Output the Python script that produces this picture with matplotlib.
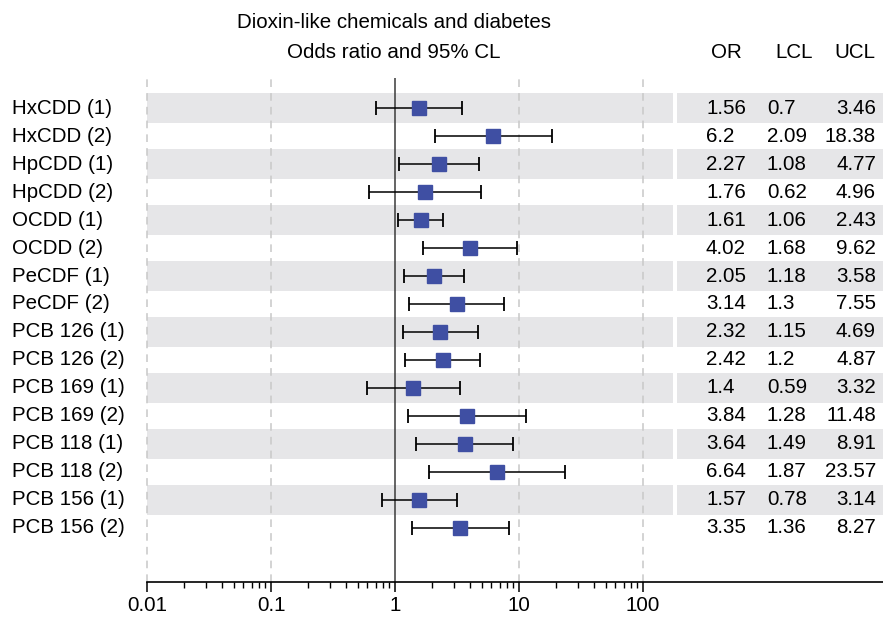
import matplotlib
matplotlib.use('Agg')
import matplotlib.pyplot as plt
import matplotlib.transforms as mtrans
import numpy as np

# forest plot: dioxin-like chemicals vs diabetes
labels = ['HxCDD (1)', 'HxCDD (2)', 'HpCDD (1)', 'HpCDD (2)', 'OCDD (1)', 'OCDD (2)',
          'PeCDF (1)', 'PeCDF (2)', 'PCB 126 (1)', 'PCB 126 (2)', 'PCB 169 (1)', 'PCB 169 (2)',
          'PCB 118 (1)', 'PCB 118 (2)', 'PCB 156 (1)', 'PCB 156 (2)']
odds = [1.56, 6.2, 2.27, 1.76, 1.61, 4.02, 2.05, 3.14, 2.32, 2.42, 1.4, 3.84, 3.64, 6.64, 1.57, 3.35]
lcl = [0.7, 2.09, 1.08, 0.62, 1.06, 1.68, 1.18, 1.3, 1.15, 1.2, 0.59, 1.28, 1.49, 1.87, 0.78, 1.36]
ucl = [3.46, 18.38, 4.77, 4.96, 2.43, 9.62, 3.58, 7.55, 4.69, 4.87, 3.32, 11.48, 8.91, 23.57, 3.14, 8.27]
xticks = [0.01, 0.1, 1, 10, 100]
xticklabels = ['0.01', '0.1', '1', '10', '100']

plt.rcParams['font.family'] = ['Liberation Sans', 'DejaVu Sans']
fs = 14.8
W, H = 883, 618

fig = plt.figure(figsize=(W / 100, H / 100), dpi=100)
ax = fig.add_axes([147 / W, (H - 582) / H, 736 / W, 504 / H])

n = len(labels)
y = np.arange(n)
odds = np.array(odds)
lcl = np.array(lcl)
ucl = np.array(ucl)

ax.set_xscale('log')
ax.set_xlim(0.01, 10 ** (-2 + 736 / 124))
ax.set_ylim(16.94, -1.08)

# shaded bands on every other row
for i in range(0, n, 2):
    ax.axhspan(i - 0.54, i + 0.54, xmin=0, xmax=(673 - 147) / 736, color='#e6e6e8', lw=0, zorder=0)
    ax.axhspan(i - 0.54, i + 0.54, xmin=(677 - 147) / 736, xmax=1, color='#e6e6e8', lw=0, zorder=0)

for xv in [0.01, 0.1, 10, 100]:
    ax.axvline(xv, color='#c8c8c8', lw=1.1, dashes=(5, 4), zorder=1, clip_on=False)
ax.axvline(1, color='#3a3a3a', lw=1.1, zorder=2)

ax.errorbar(odds, y, xerr=[odds - lcl, ucl - odds], fmt='none', ecolor='black',
            elinewidth=1.1, capsize=4.7, capthick=1.3, zorder=3)
ax.plot(odds, y, 's', color='#3f4fa3', markersize=9.5, zorder=4)

# axis styling
for s in ['left', 'right', 'top']:
    ax.spines[s].set_visible(False)
ax.spines['bottom'].set_linewidth(1.2)
ax.set_yticks([])
ax.set_xticks(xticks)
ax.set_xticklabels(xticklabels, fontsize=fs)
ax.tick_params(axis='x', which='major', length=7, width=1.1, pad=3)
ax.tick_params(axis='x', which='minor', length=4, width=1.0)
# minor ticks only between 0.01 and 100
ax.xaxis.set_minor_locator(matplotlib.ticker.FixedLocator(
    [m * 10.0 ** e for e in range(-2, 2) for m in range(2, 10)]))
ax.xaxis.set_minor_formatter(matplotlib.ticker.NullFormatter())

# row labels and table
tr = mtrans.blended_transform_factory(fig.transFigure, ax.transData)
for i in range(n):
    ax.text(12 / W, i, labels[i], transform=tr, ha='left', va='center', fontsize=fs)
    ax.text(706 / W, i, f'{odds[i]:g}', transform=tr, ha='left', va='center', fontsize=fs)
    ax.text(767 / W, i, f'{lcl[i]:g}', transform=tr, ha='left', va='center', fontsize=fs)
    ax.text(876 / W, i, f'{ucl[i]:g}', transform=tr, ha='right', va='center', fontsize=fs)

fig.text(394 / W, 1 - 22 / H, 'Dioxin-like chemicals and diabetes', ha='center', va='center', fontsize=fs)
fig.text(394 / W, 1 - 53 / H, 'Odds ratio and 95% CL', ha='center', va='center', fontsize=fs)
fig.text(726 / W, 1 - 53 / H, 'OR', ha='center', va='center', fontsize=fs)
fig.text(794 / W, 1 - 53 / H, 'LCL', ha='center', va='center', fontsize=fs)
fig.text(855 / W, 1 - 53 / H, 'UCL', ha='center', va='center', fontsize=fs)

fig.savefig('out.png', dpi=100)
